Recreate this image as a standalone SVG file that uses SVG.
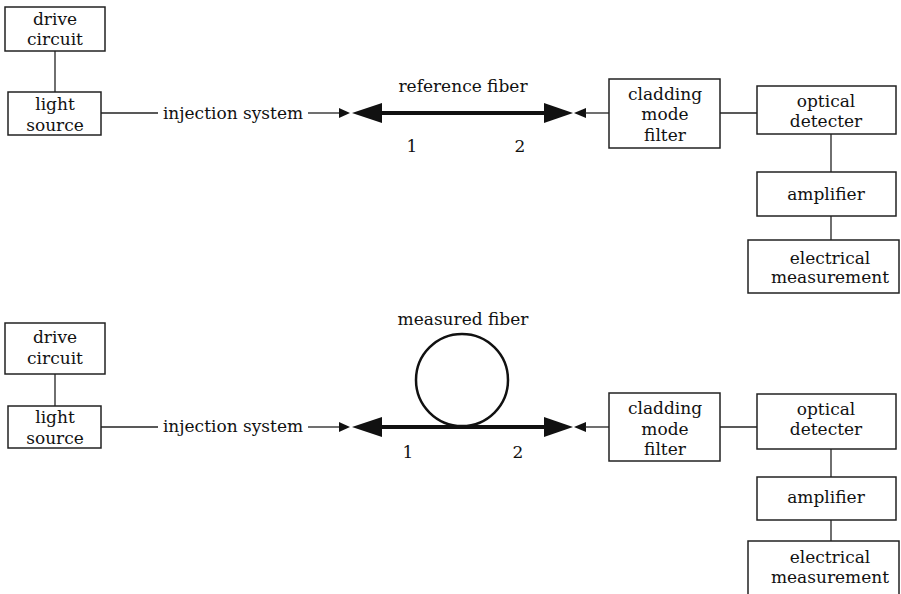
<svg xmlns="http://www.w3.org/2000/svg" xmlns:xlink="http://www.w3.org/1999/xlink" width="901" height="594" viewBox="0 0 901 594">
<style>
.box{fill:#fff;stroke:#222;stroke-width:1.5}
.ln{fill:none;stroke:#222;stroke-width:1.3}
.fib{fill:none;stroke:#111;stroke-width:4}
.loop{fill:none;stroke:#111;stroke-width:2.5}
.ah{fill:#111;stroke:none}
text{font-family:"DejaVu Serif","Liberation Serif",serif;font-size:17px;fill:#111;text-anchor:middle}
</style>
<defs>
<polygon id="bigL" points="0,0 30,-10 30,10"/>
<polygon id="bigR" points="0,0 -29,-10 -29,10"/>
<polygon id="smR" points="0,0 -11,-5 -11,5"/>
<polygon id="smL" points="0,0 12,-5 12,5"/>
</defs>
<rect width="901" height="594" fill="#fff"/>

<g id="connectors">
<!-- top -->
<line class="ln" x1="55" y1="51" x2="55" y2="92"/>
<line class="ln" x1="101" y1="113" x2="158" y2="113"/>
<line class="ln" x1="308" y1="113" x2="340" y2="113"/>
<use href="#smR" class="ah" x="350" y="113"/>
<use href="#bigL" class="ah" x="352" y="113"/>
<line class="fib" x1="380" y1="113" x2="546" y2="113"/>
<use href="#bigR" class="ah" x="573" y="113"/>
<use href="#smL" class="ah" x="574" y="113"/>
<line class="ln" x1="585" y1="113" x2="609" y2="113"/>
<line class="ln" x1="720" y1="113" x2="757" y2="113"/>
<line class="ln" x1="831" y1="134" x2="831" y2="172"/>
<line class="ln" x1="831" y1="216" x2="831" y2="240"/>
<!-- bottom -->
<line class="ln" x1="55" y1="374" x2="55" y2="406"/>
<line class="ln" x1="101" y1="427" x2="158" y2="427"/>
<line class="ln" x1="308" y1="427" x2="340" y2="427"/>
<use href="#smR" class="ah" x="350" y="427"/>
<use href="#bigL" class="ah" x="352" y="427"/>
<line class="fib" x1="380" y1="427" x2="546" y2="427"/>
<use href="#bigR" class="ah" x="573" y="427"/>
<use href="#smL" class="ah" x="574" y="427"/>
<line class="ln" x1="585" y1="427" x2="609" y2="427"/>
<line class="ln" x1="720" y1="427" x2="757" y2="427"/>
<line class="ln" x1="831" y1="449" x2="831" y2="477"/>
<line class="ln" x1="831" y1="520" x2="831" y2="541"/>
</g>

<g id="top-drive-circuit"><rect class="box" x="5" y="7" width="100" height="44"/><text x="55" y="25">drive</text><text x="55" y="45">circuit</text></g>
<g id="top-light-source"><rect class="box" x="8" y="92" width="93" height="43"/><text x="55" y="110">light</text><text x="55" y="131">source</text></g>
<g id="top-injection"><text x="233" y="119">injection system</text></g>
<g id="top-fiber"><text x="463" y="92">reference fiber</text><text x="412" y="152">1</text><text x="520" y="152">2</text></g>
<g id="top-cladding"><rect class="box" x="609" y="79" width="111" height="69"/><text x="665" y="100">cladding</text><text x="665" y="120">mode</text><text x="665" y="141">filter</text></g>
<g id="top-optical"><rect class="box" x="757" y="86" width="139" height="48"/><text x="826" y="107">optical</text><text x="826" y="127">detecter</text></g>
<g id="top-amplifier"><rect class="box" x="757" y="172" width="139" height="44"/><text x="826" y="200">amplifier</text></g>
<g id="top-electrical"><rect class="box" x="748" y="240" width="151" height="53"/><text x="830" y="264">electrical</text><text x="830" y="283">measurement</text></g>

<g id="bot-drive-circuit"><rect class="box" x="5" y="323" width="100" height="51"/><text x="55" y="343">drive</text><text x="55" y="364">circuit</text></g>
<g id="bot-light-source"><rect class="box" x="8" y="406" width="93" height="42"/><text x="55" y="423">light</text><text x="55" y="444">source</text></g>
<g id="bot-injection"><text x="233" y="432">injection system</text></g>
<g id="bot-fiber"><circle class="loop" cx="462" cy="380" r="46"/><text x="463" y="325">measured fiber</text><text x="408" y="458">1</text><text x="518" y="458">2</text></g>
<g id="bot-cladding"><rect class="box" x="609" y="393" width="111" height="68"/><text x="665" y="414">cladding</text><text x="665" y="435">mode</text><text x="665" y="455">filter</text></g>
<g id="bot-optical"><rect class="box" x="757" y="394" width="139" height="55"/><text x="826" y="415">optical</text><text x="826" y="435">detecter</text></g>
<g id="bot-amplifier"><rect class="box" x="757" y="477" width="139" height="43"/><text x="826" y="503">amplifier</text></g>
<g id="bot-electrical"><rect class="box" x="748" y="541" width="151" height="60"/><text x="830" y="563">electrical</text><text x="830" y="583">measurement</text></g>
</svg>
